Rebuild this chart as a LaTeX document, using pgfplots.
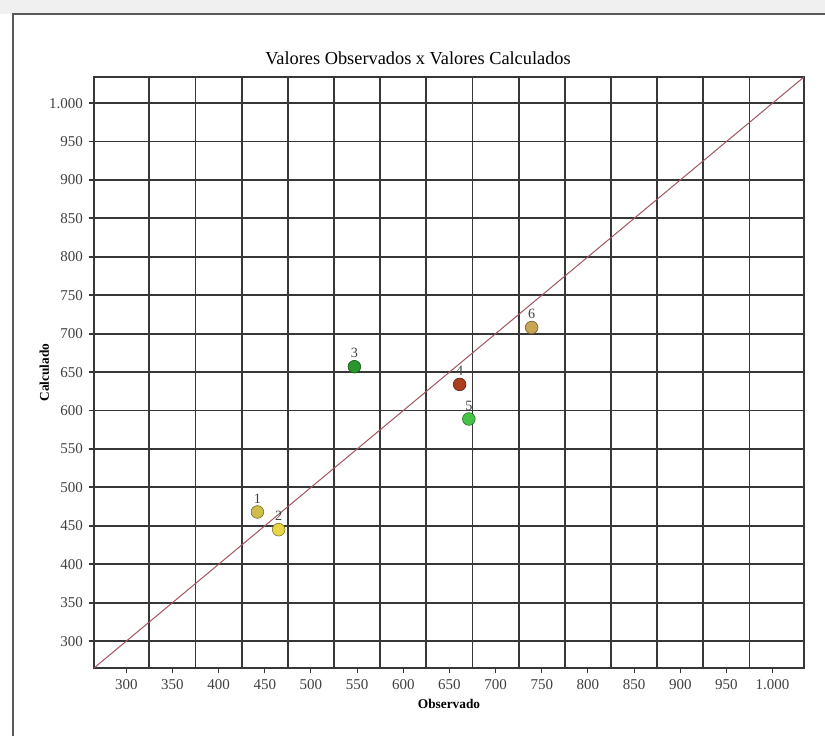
\documentclass[border=0pt]{standalone}
\usepackage{pgfplots}
\pgfplotsset{compat=1.18}
\usepackage{fontspec}
\setmainfont{Liberation Serif}

\definecolor{gridc}{RGB}{55,55,55}
\definecolor{diagc}{RGB}{160,85,95}
\definecolor{pA}{RGB}{205,190,75}
\definecolor{pB}{RGB}{232,212,70}
\definecolor{pC}{RGB}{40,150,40}
\definecolor{pD}{RGB}{170,62,30}
\definecolor{pE}{RGB}{70,195,70}
\definecolor{pF}{RGB}{200,165,85}

\begin{document}
\begin{tikzpicture}
% page: 825 x 736 px, 1 px = 0.6 pt
\useasboundingbox (0,0) rectangle (495pt,441.6pt);
\fill[gray!12] (0,433.2pt) rectangle (495pt,441.6pt);
\draw[gray!70!black, line width=1.2pt] (7.8pt,0) -- (7.8pt,433.2pt) -- (495pt,433.2pt);

\begin{axis}[
  at={(56.4pt,40.8pt)}, anchor=south west,
  scale only axis,
  width=426pt, height=354.6pt,
  xmin=265, xmax=1034, ymin=265, ymax=1034,
  xtick={300,350,...,1000},
  ytick={300,350,...,1000},
  extra x ticks={325,375,...,975},
  extra x tick labels={},
  extra x tick style={xmajorgrids=true, xtick style={draw=none}},
  ymajorgrids,
  xtick pos=bottom, ytick pos=left,
  tick align=outside,
  major tick length=3.2pt,
  xtick style={draw=gridc, line width=0.6pt},
  ytick style={draw=gridc, line width=1.1pt},
  major grid style={draw=gridc, line width=1.1pt},
  axis line style={draw=gridc, line width=1.1pt},
  /pgf/number format/assume math mode=true,
  /pgf/number format/1000 sep={.},
  tick label style={font=\fontsize{9}{10}\selectfont, text=black!75},
  title={Valores Observados x Valores Calculados},
  title style={font=\fontsize{11}{13}\selectfont, yshift=-2pt, xshift=-18.6pt},
  xlabel={Observado},
  ylabel={Calculado},
  label style={font=\fontsize{8}{10}\selectfont\bfseries},
  xlabel style={yshift=7.6pt},
  ylabel style={yshift=-6.8pt},
  clip=false,
  nodes near coords style={font=\fontsize{8.5}{9}\selectfont, text=black!75, yshift=4pt, inner sep=1pt},
]
% identity line y = x
\addplot[diagc, line width=0.6pt] coordinates {(265,265) (1034,1034)};

\addplot[only marks, mark=*, mark size=3.8pt, draw=pA!60!black, fill=pA, nodes near coords={1}] coordinates {(442,468)};
\addplot[only marks, mark=*, mark size=3.8pt, draw=pB!60!black, fill=pB, nodes near coords={2}] coordinates {(465,445)};
\addplot[only marks, mark=*, mark size=3.8pt, draw=pC!60!black, fill=pC, nodes near coords={3}] coordinates {(547,657)};
\addplot[only marks, mark=*, mark size=3.8pt, draw=pD!60!black, fill=pD, nodes near coords={4}] coordinates {(661,634)};
\addplot[only marks, mark=*, mark size=3.8pt, draw=pE!60!black, fill=pE, nodes near coords={5}] coordinates {(671,589)};
\addplot[only marks, mark=*, mark size=3.8pt, draw=pF!60!black, fill=pF, nodes near coords={6}] coordinates {(739,708)};
\end{axis}
\end{tikzpicture}
\end{document}
